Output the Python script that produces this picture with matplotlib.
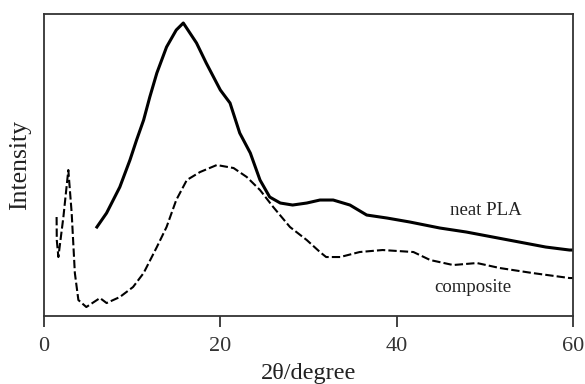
import numpy as np
import matplotlib.pyplot as plt

# neat PLA (solid trace)
pla_x = [6.0, 7.1, 8.6, 9.75, 10.5, 11.3, 12.0, 12.8, 13.9, 15.0, 15.8, 17.3, 18.4, 20.0,
         21.1, 22.2, 23.4, 24.5, 25.6, 26.8, 28.2, 29.8, 31.3, 32.8, 34.7, 36.6, 38.9,
         41.5, 44.9, 47.9, 50.9, 53.9, 56.9, 59.6, 60.0]
pla_y = [89, 103, 129, 156, 176, 196, 219, 243, 269, 286, 293, 273, 253, 226,
         213, 183, 163, 136, 119, 113, 111, 113, 116, 116, 111, 101, 98,
         94, 88, 84, 79, 74, 69, 66, 66]

# composite (dashed trace)
comp_x = [1.43, 1.45, 1.63, 2.2, 2.76, 3.14, 3.5, 3.9, 4.8, 6.35, 7.1, 8.6, 10.1, 11.3,
          12.8, 13.9, 15.0, 16.2, 17.7, 19.6, 21.5, 23.0, 24.5, 26.0, 27.9, 29.8, 31.3,
          32.0, 33.6, 35.8, 38.4, 41.9, 43.8, 46.4, 49.1, 51.7, 55.4, 59.6, 60.0]
comp_y = [99, 76, 59, 99, 146, 103, 43, 16, 9, 18, 13, 19, 29, 43,
          69, 89, 116, 136, 144, 151, 148, 139, 126, 109, 89, 76, 64,
          59, 59, 64, 66, 64, 56, 51, 53, 48, 43, 38, 38]

xticks = [0, 20, 40, 60]

plt.rcParams['font.family'] = ['Liberation Serif', 'DejaVu Serif']

fig = plt.figure(figsize=(5.85, 3.84), dpi=100)
ax = fig.add_axes([0.0752, 0.177, 0.9043, 0.7865])

ax.plot(pla_x, pla_y, color='black', lw=2.2)
ax.plot(comp_x, comp_y, color='black', lw=1.5, linestyle=(0, (4, 1.5)))

ax.text(46.0, 106, 'neat PLA', fontsize=13.5, va='center', ha='left', color='#222222')
ax.text(44.3, 29, 'composite', fontsize=13.5, va='center', ha='left', color='#222222')

ax.set_xlim(0, 60)
ax.set_ylim(0, 302)
ax.set_xticks(xticks)
ax.set_yticks([])
ax.tick_params(axis='x', direction='out', length=8, width=1.3, labelsize=16, pad=7,
               colors='#333333')
for s in ax.spines.values():
    s.set_linewidth(1.3)
    s.set_color('#333333')

ax.set_xlabel('2θ/degree', fontsize=17.5, color='#222222', labelpad=5)
ax.set_ylabel('Intensity', fontsize=18.5, color='#222222', labelpad=9)

fig.savefig('out.png', dpi=100)
